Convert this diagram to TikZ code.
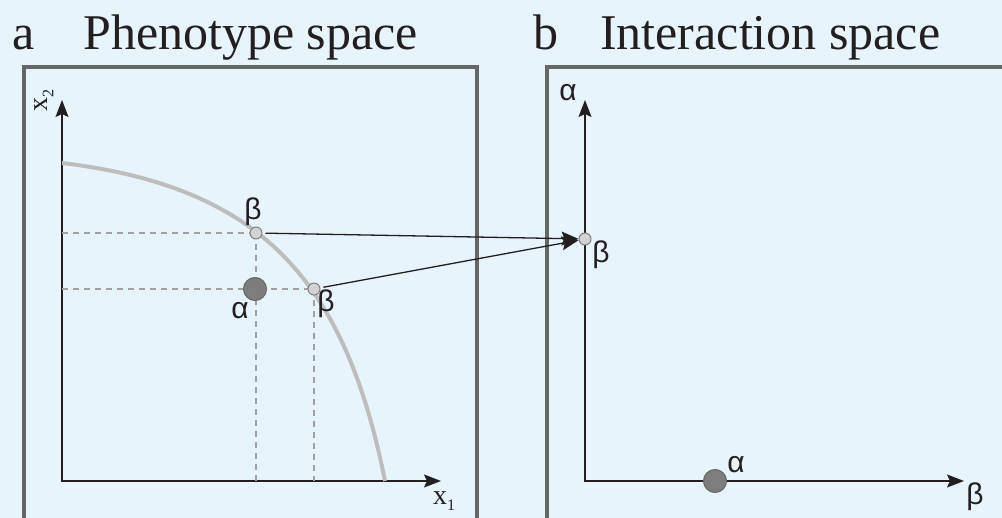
\documentclass[tikz,border=0pt]{standalone}
\usepackage{fontspec}
\setmainfont{Liberation Serif}
\newfontfamily\grk{Liberation Sans}
\usetikzlibrary{arrows.meta}
\definecolor{bg}{HTML}{E8F4FB}
\definecolor{framec}{HTML}{666666}
\definecolor{curvec}{HTML}{BDBDBD}
\definecolor{dashc}{HTML}{A0A0A0}
\definecolor{ptlight}{HTML}{D2D2D2}
\definecolor{ptdark}{HTML}{7D7D7D}
\definecolor{axisc}{HTML}{231F20}
\begin{document}
\begin{tikzpicture}[x=1pt,y=-1pt,
  panel/.style={draw=framec,line width=4pt},
  axisline/.style={draw=axisc,line width=1.4pt,{Stealth[length=17pt,width=13pt,inset=3pt]}-{Stealth[length=17pt,width=13pt,inset=3pt]}},
  guide/.style={draw=dashc,line width=1.2pt,dash pattern=on 6pt off 5pt},
  smallpt/.style={circle,draw=gray,fill=ptlight,line width=1pt,minimum size=12pt,inner sep=0pt},
  bigpt/.style={circle,draw=gray!80!black,fill=ptdark,line width=1pt,minimum size=23pt,inner sep=0pt},
  glab/.style={inner sep=0pt,text=axisc,font=\grk\fontsize{30}{30}\selectfont},
  xlab/.style={inner sep=0pt,text=axisc,font=\fontsize{28}{28}\selectfont},
  titlestyle/.style={inner sep=0pt,anchor=base west,text=axisc,font=\fontsize{50}{60}\selectfont},
  arr/.style={draw=axisc,line width=1.3pt,-{Stealth[length=17pt,width=14pt,inset=3pt]}}
]
\fill[bg] (0,0) rectangle (1002,518);
\useasboundingbox (0,0) rectangle (1002,518);

% titles
\node[titlestyle] (ta) at (12,50) {a};
\node[titlestyle] (tpa) at (83,50) {Phenotype space};
\node[titlestyle] (tb) at (533,50) {b};
\node[titlestyle] (tpb) at (600,50) {Interaction space};

% panels
\draw[panel] (24,67) rectangle (477,540);
\draw[panel] (547,67) rectangle (1020,540);

% panel a axes
\coordinate (oa) at (62,481);
\coordinate (ya) at (62,100);
\coordinate (xa) at (441,481);
\draw[axisline] (ya) -- (oa) -- (xa);

% curve
\draw[curvec,line width=4pt] (62,163) .. controls (262,187) and (345,281) .. (385,481);

% points (positions)
\coordinate (pb1) at (256,233);
\coordinate (pa1) at (255,289);
\coordinate (pb2) at (314,289);

% guides
\draw[guide] (oa |- pb1) -- (pb1);
\draw[guide] (oa |- pb2) -- (pb2);
\draw[guide] (pb1) -- (pb1 |- oa);
\draw[guide] (pb2) -- (pb2 |- oa);

\node[smallpt] (b1) at (pb1) {};
\node[bigpt] (a1) at (pa1) {};
\node[smallpt] (b2) at (pb2) {};

\node[glab] (lb1) at (253,212) {β};
\node[glab] (la1) at (240,311) {α};
\node[glab] (lb2) at (326,304) {β};

\node[xlab,anchor=base west] (x1l) at (433,504) {x\raisebox{-6pt}{\fontsize{16}{16}\selectfont 1}};
\node[xlab,rotate=90] (x2l) at (44,101) {x\raisebox{-6pt}{\fontsize{16}{16}\selectfont 2}};

% panel b axes
\coordinate (ob) at (585,481);
\coordinate (yb) at (585,100);
\coordinate (xb) at (964,481);
\draw[axisline] (yb) -- (ob) -- (xb);

\node[smallpt] (bb) at (585,239) {};
\node[bigpt] (ab) at (715,481) {};

\node[glab] (lyb) at (568,93) {α};
\node[glab] (lbb) at (601,255) {β};
\node[glab] (lab) at (736,465) {α};
\node[glab] (lxb) at (975,497) {β};

% arrows
\draw[arr,shorten <=3pt] (b1) -- (bb);
\draw[arr,shorten <=3pt] (b2) -- (bb);
\end{tikzpicture}
\end{document}
